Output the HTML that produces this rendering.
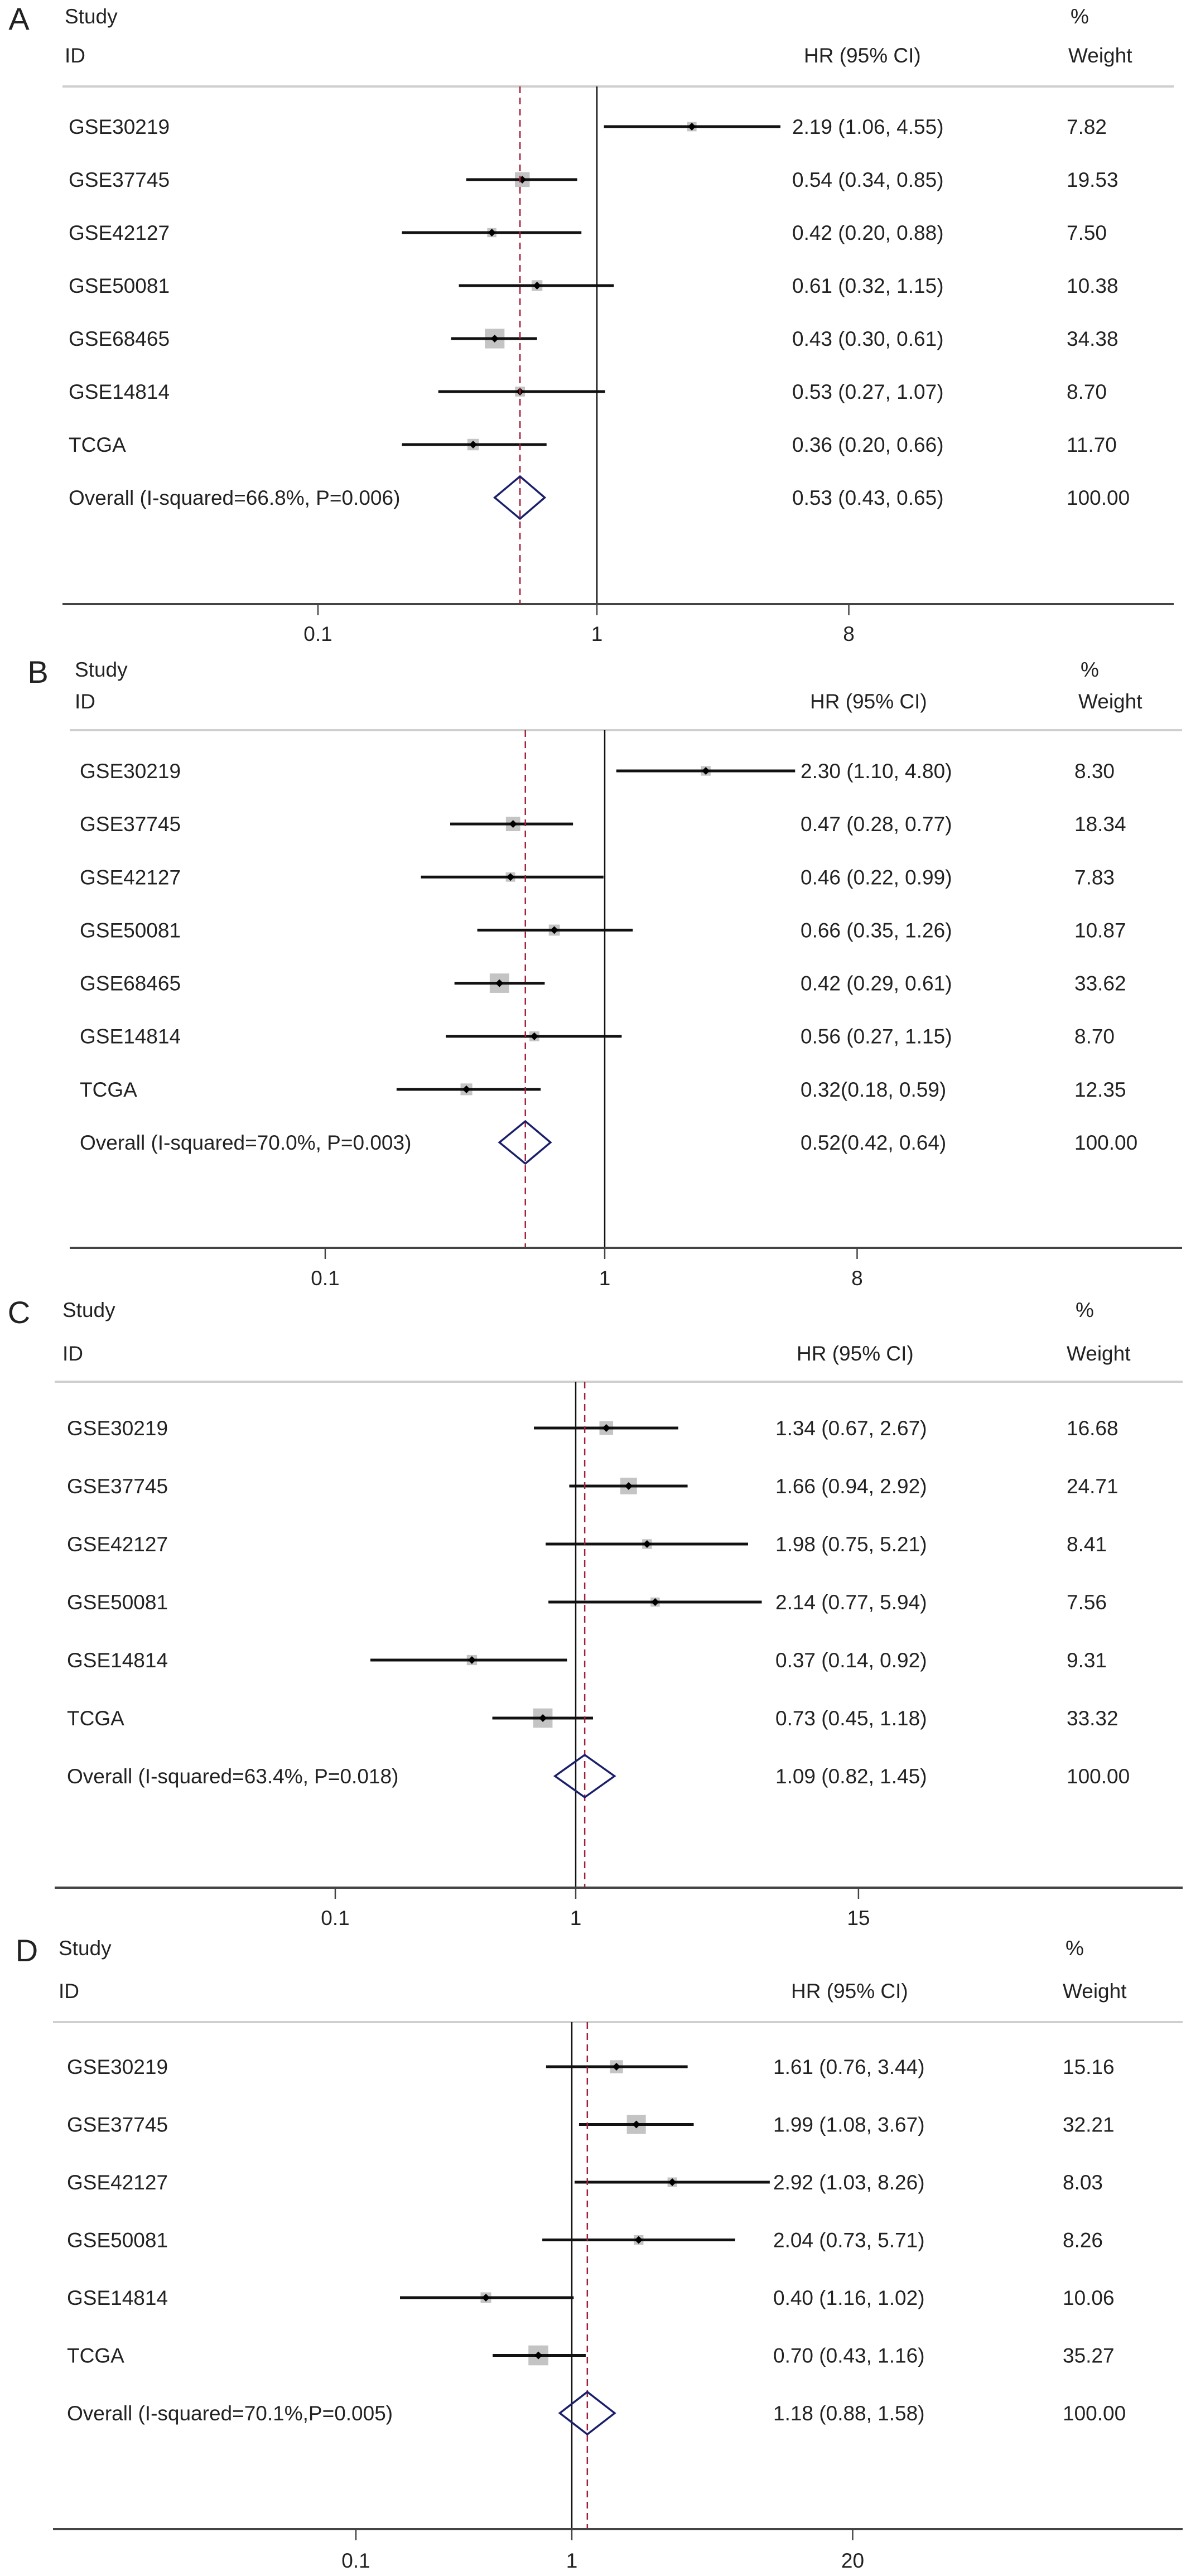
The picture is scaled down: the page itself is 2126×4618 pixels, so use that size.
<!DOCTYPE html>
<html><head><meta charset="utf-8"><style>
html,body{margin:0;padding:0;background:#fff;}
svg{display:block;}
text{font-family:"Liberation Sans",Arial,sans-serif;fill:#222;}
</style></head><body>
<svg id="chart" width="2126" height="4618" viewBox="0 0 2126 4618" xmlns="http://www.w3.org/2000/svg"></svg>
<script>
// ---- Panel A data ----
const studiesA = ["GSE30219","GSE37745","GSE42127","GSE50081","GSE68465","GSE14814","TCGA"];
const hrA = [2.19,0.54,0.42,0.61,0.43,0.53,0.36];
const loA = [1.06,0.34,0.20,0.32,0.30,0.27,0.20];
const hiA = [4.55,0.85,0.88,1.15,0.61,1.07,0.66];
const wA = [7.82,19.53,7.50,10.38,34.38,8.70,11.70];
const hrTextA = ["2.19 (1.06, 4.55)","0.54 (0.34, 0.85)","0.42 (0.20, 0.88)","0.61 (0.32, 1.15)","0.43 (0.30, 0.61)","0.53 (0.27, 1.07)","0.36 (0.20, 0.66)"];
const overallA = [0.53,0.43,0.65];
const overallLabelA = "Overall (I-squared=66.8%, P=0.006)";
const overallTextA = "0.53 (0.43, 0.65)";
const ticksA = [0.1,1,8];
// ---- Panel B data ----
const studiesB = ["GSE30219","GSE37745","GSE42127","GSE50081","GSE68465","GSE14814","TCGA"];
const hrB = [2.30,0.47,0.46,0.66,0.42,0.56,0.32];
const loB = [1.10,0.28,0.22,0.35,0.29,0.27,0.18];
const hiB = [4.80,0.77,0.99,1.26,0.61,1.15,0.59];
const wB = [8.30,18.34,7.83,10.87,33.62,8.70,12.35];
const hrTextB = ["2.30 (1.10, 4.80)","0.47 (0.28, 0.77)","0.46 (0.22, 0.99)","0.66 (0.35, 1.26)","0.42 (0.29, 0.61)","0.56 (0.27, 1.15)","0.32(0.18, 0.59)"];
const overallB = [0.52,0.42,0.64];
const overallLabelB = "Overall (I-squared=70.0%, P=0.003)";
const overallTextB = "0.52(0.42, 0.64)";
const ticksB = [0.1,1,8];
// ---- Panel C data ----
const studiesC = ["GSE30219","GSE37745","GSE42127","GSE50081","GSE14814","TCGA"];
const hrC = [1.34,1.66,1.98,2.14,0.37,0.73];
const loC = [0.67,0.94,0.75,0.77,0.14,0.45];
const hiC = [2.67,2.92,5.21,5.94,0.92,1.18];
const wC = [16.68,24.71,8.41,7.56,9.31,33.32];
const hrTextC = ["1.34 (0.67, 2.67)","1.66 (0.94, 2.92)","1.98 (0.75, 5.21)","2.14 (0.77, 5.94)","0.37 (0.14, 0.92)","0.73 (0.45, 1.18)"];
const overallC = [1.09,0.82,1.45];
const overallLabelC = "Overall (I-squared=63.4%, P=0.018)";
const overallTextC = "1.09 (0.82, 1.45)";
const ticksC = [0.1,1,15];
// ---- Panel D data ----
const studiesD = ["GSE30219","GSE37745","GSE42127","GSE50081","GSE14814","TCGA"];
const hrD = [1.61,1.99,2.92,2.04,0.40,0.70];
const loD = [0.76,1.08,1.03,0.73,0.16,0.43];
const hiD = [3.44,3.67,8.26,5.71,1.02,1.16];
const wD = [15.16,32.21,8.03,8.26,10.06,35.27];
const hrTextD = ["1.61 (0.76, 3.44)","1.99 (1.08, 3.67)","2.92 (1.03, 8.26)","2.04 (0.73, 5.71)","0.40 (1.16, 1.02)","0.70 (0.43, 1.16)"];
const overallD = [1.18,0.88,1.58];
const overallLabelD = "Overall (I-squared=70.1%,P=0.005)";
const overallTextD = "1.18 (0.88, 1.58)";
const ticksD = [0.1,1,20];

const NS = "http://www.w3.org/2000/svg";
const svg = document.getElementById("chart");
function mk(tag, attrs, parent){
  const e = document.createElementNS(NS, tag);
  for (const k in attrs) e.setAttribute(k, attrs[k]);
  (parent||svg).appendChild(e);
  return e;
}
function txt(parent, x, y, s, size, anchor){
  const t = mk("text", {x:x, y:y, "font-size":size||37, "text-anchor":anchor||"start"}, parent);
  t.textContent = s;
  return t;
}

// layout (positions only)
const layouts = [
 {id:"a", letter:"A", off:0, one:1070, dec:500, lx:34, lblX:123, studyX:116, hrX:1420, wX:1912, hrHX:1441, wHX:1915, pctX:1919, gx0:112, gx1:2104, studyY:29, idY:99, gray:155, first:227, last:892, axis:1083, tickY:1136,
  studies:studiesA, hr:hrA, lo:loA, hi:hiA, w:wA, hrText:hrTextA, ov:overallA, ovLabel:overallLabelA, ovText:overallTextA, ticks:ticksA},
 {id:"b", letter:"B", off:1154, one:1084, dec:501, lx:68, lblX:143, studyX:134, hrX:1435, wX:1926, hrHX:1452, wHX:1933, pctX:1937, gx0:125, gx1:2119, studyY:46, idY:103, gray:155, first:228, last:894, axis:1083, tickY:1137,
  studies:studiesB, hr:hrB, lo:loB, hi:hiB, w:wB, hrText:hrTextB, ov:overallB, ovLabel:overallLabelB, ovText:overallTextB, ticks:ticksB},
 {id:"c", letter:"C", off:2308, one:1032, dec:431, lx:34, lblX:120, studyX:112, hrX:1390, wX:1912, hrHX:1428, wHX:1912, pctX:1928, gx0:98, gx1:2120, studyY:40, idY:118, gray:169, first:252, last:876, axis:1076, tickY:1130,
  studies:studiesC, hr:hrC, lo:loC, hi:hiC, w:wC, hrText:hrTextC, ov:overallC, ovLabel:overallLabelC, ovText:overallTextC, ticks:ticksC},
 {id:"d", letter:"D", off:3463, one:1025, dec:387, lx:48, lblX:120, studyX:105, hrX:1386, wX:1905, hrHX:1418, wHX:1905, pctX:1910, gx0:95, gx1:2120, studyY:29, idY:106, gray:162, first:242, last:863, axis:1071, tickY:1127,
  studies:studiesD, hr:hrD, lo:loD, hi:hiD, w:wD, hrText:hrTextD, ov:overallD, ovLabel:overallLabelD, ovText:overallTextD, ticks:ticksD}
];

layouts.forEach(L => {
  const g = mk("g", {transform:"translate(0,"+L.off+")"});
  
  
  const xs = v => L.one + L.dec*Math.log10(v);
  const n = L.studies.length;
  const step = (L.last - L.first)/n;
  const yRow = i => L.first + step*i;

  const letter = txt(g, L.lx, L.studyY+24, L.letter, 56, "middle");
  
  
  const h1 = txt(g, L.studyX, L.studyY+13, "Study");
  
  
  const h2 = txt(g, L.studyX, L.idY+13, "ID");
  
  
  const h3 = txt(g, L.hrHX, L.idY+13, "HR (95% CI)");
  
  
  const h4 = txt(g, L.pctX, L.studyY+13, "%");
  
  
  const h5 = txt(g, L.wHX, L.idY+13, "Weight");
  
  

  const gl = mk("line", {x1:L.gx0, x2:L.gx1, y1:L.gray, y2:L.gray, stroke:"#cfcfcf", "stroke-width":4}, g);
  
  

  const nl = mk("line", {x1:xs(1), x2:xs(1), y1:L.gray, y2:L.axis, stroke:"#111", "stroke-width":2.5}, g);
  
  

  for (let i=0;i<n;i++){
    const y = yRow(i);
    const s = 6*Math.sqrt(L.w[i]);
    const sq = mk("rect", {x:xs(L.hr[i])-s/2, y:y-s/2, width:s, height:s, fill:"#c4c4c4"}, g);
    
    
    const ci = mk("line", {x1:xs(L.lo[i]), x2:xs(L.hi[i]), y1:y, y2:y, stroke:"#111", "stroke-width":5}, g);
    
    
    const px = xs(L.hr[i]);
    const pt = mk("polygon", {points:(px-7)+","+y+" "+px+","+(y-7)+" "+(px+7)+","+y+" "+px+","+(y+7), fill:"#000"}, g);
    
    
    const l = txt(g, L.lblX, y+13, L.studies[i]);
    
    
    const h = txt(g, L.hrX, y+13, L.hrText[i]);
    
    
    const w = txt(g, L.wX, y+13, L.w[i].toFixed(2));
    
    
  }
  const oy = yRow(n);
  const dl = mk("line", {x1:xs(L.ov[0]), x2:xs(L.ov[0]), y1:L.gray, y2:L.axis, stroke:"#a3203c", "stroke-width":2.5, "stroke-dasharray":"12,8"}, g);
  
  
  const dx = xs(L.ov[0]);
  const dm = mk("polygon", {points:xs(L.ov[1])+","+oy+" "+dx+","+(oy-38)+" "+xs(L.ov[2])+","+oy+" "+dx+","+(oy+38), fill:"none", stroke:"#1a1f6b", "stroke-width":3.5}, g);
  
  
  const ol = txt(g, L.lblX, oy+13, L.ovLabel);
  
  
  const ot = txt(g, L.hrX, oy+13, L.ovText);
  
  
  const ow = txt(g, L.wX, oy+13, "100.00");
  
  

  const ax = mk("line", {x1:L.gx0, x2:L.gx1, y1:L.axis, y2:L.axis, stroke:"#444", "stroke-width":4}, g);
  
  
  L.ticks.forEach(t => {
    const tk = mk("line", {x1:xs(t), x2:xs(t), y1:L.axis, y2:L.axis+20, stroke:"#444", "stroke-width":2.5}, g);
    
    
    const tl = txt(g, xs(t), L.tickY+13, String(t), 37, "middle");
    
    
  });
});
</script>
</body></html>
